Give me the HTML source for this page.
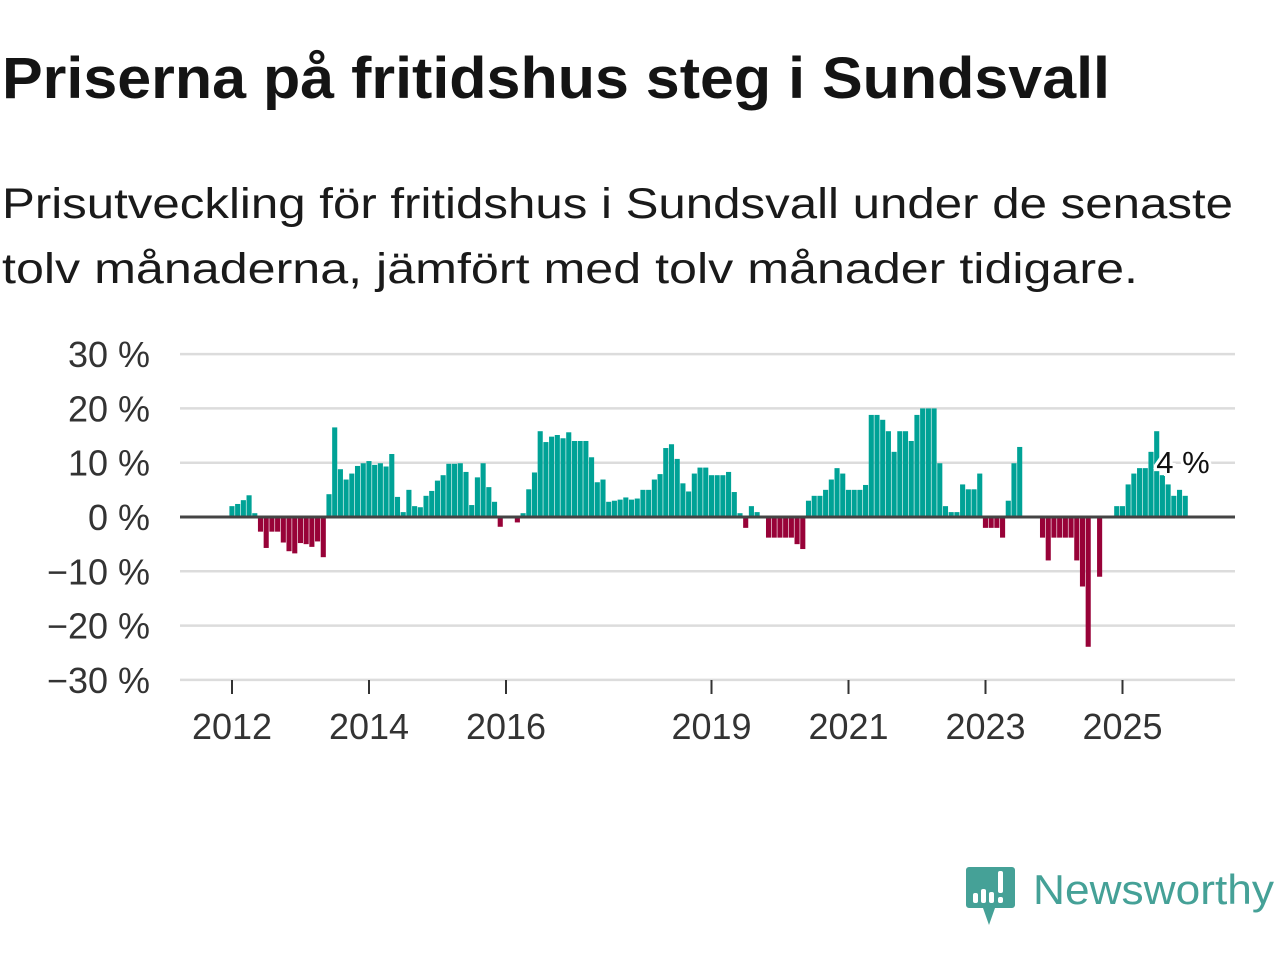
<!DOCTYPE html>
<html><head><meta charset="utf-8"><style>
body{margin:0;background:#fff;}
svg{display:block;font-family:"Liberation Sans","DejaVu Sans",sans-serif;}
</style></head><body>
<svg id="chart" width="1280" height="960" viewBox="0 0 1280 960" xmlns="http://www.w3.org/2000/svg">
<rect width="1280" height="960" fill="#fff"/>
<text x="2" y="98" font-size="58" font-weight="bold" fill="#141414" textLength="1108" lengthAdjust="spacingAndGlyphs">Priserna på fritidshus steg i Sundsvall</text>
<text x="2" y="218" font-size="43" fill="#1a1a1a" textLength="1231" lengthAdjust="spacingAndGlyphs">Prisutveckling för fritidshus i Sundsvall under de senaste</text>
<text x="2" y="283" font-size="43" fill="#1a1a1a" textLength="1136" lengthAdjust="spacingAndGlyphs">tolv månaderna, jämfört med tolv månader tidigare.</text>
<g id="grid"></g>
<g id="bars"></g>
<g id="axes"></g>
<g>
<path d="M969 867 H1012 a3 3 0 0 1 3 3 V905 a3 3 0 0 1 -3 3 H995 L989 925 L983 908 H969 a3 3 0 0 1 -3 -3 V870 a3 3 0 0 1 3 -3 Z" fill="#45a197"/>
<rect x="973" y="893" width="5" height="10" rx="2" fill="#fff"/>
<rect x="981" y="889" width="5" height="14" rx="2" fill="#fff"/>
<rect x="989" y="892" width="5" height="11" rx="2" fill="#fff"/>
<rect x="998" y="871" width="5" height="22" rx="2" fill="#fff"/>
<rect x="998" y="897" width="5" height="6" rx="2" fill="#fff"/>
<text x="1033" y="904" font-size="42" fill="#45a197" textLength="241" lengthAdjust="spacingAndGlyphs">Newsworthy</text>
</g>
</svg>
<script>
const startYear = 2012;
const values = [
2.0,2.4,3.1,4.0,0.7,-2.7,-5.7,-2.7,-2.7,-4.7,-6.3,-6.7,
-4.8,-5.0,-5.5,-4.5,-7.4,4.2,16.5,8.8,6.9,8.0,9.4,9.9,
10.3,9.6,9.9,9.3,11.6,3.7,0.9,5.0,2.0,1.8,3.9,4.8,
6.7,7.7,9.8,9.8,9.9,8.3,2.2,7.3,9.9,5.5,2.8,-1.8,
0,0,-1.0,0.7,5.1,8.2,15.8,13.8,14.8,15.1,14.5,15.6,
14.0,14.0,14.0,11.0,6.4,6.9,2.8,3.0,3.2,3.6,3.2,3.4,
5.0,5.0,6.9,7.9,12.7,13.4,10.7,6.2,4.7,8.0,9.1,9.1,
7.7,7.7,7.7,8.3,4.6,0.7,-2.0,2.0,0.9,0,-3.8,-3.8,
-3.8,-3.8,-3.8,-5.0,-5.9,3.0,3.9,3.9,5.0,6.9,9.0,8.0,
5.0,5.0,5.0,5.9,18.8,18.8,17.9,15.8,12.0,15.8,15.8,14.0,
18.8,20.0,20.0,20.0,9.9,2.0,0.9,0.9,6.0,5.1,5.1,8.0,
-2.0,-2.0,-2.0,-3.8,3.0,9.9,12.9,0,0,0,-3.8,-8.0,
-3.8,-3.8,-3.8,-3.8,-8.0,-12.8,-23.9,0,-11.0,0,0,2.0,
2.0,6.0,8.0,9.0,9.0,12.0,15.8,7.7,6.0,3.9,5.0,3.9
];
const yTicks = [30,20,10,0,-10,-20,-30];
const yTickLabels = ["30 %","20 %","10 %","0 %","\u221210 %","\u221220 %","\u221230 %"];
const xTickYears = [2012,2014,2016,2019,2021,2023,2025];
const lastLabel = "4 %";

const NS = "http://www.w3.org/2000/svg";
const x0 = 232, monthW = 68.5/12;
const yZero = 517, pxPer = 5.43;
function xScale(i){ return x0 + i*monthW; }
function yScale(v){ return yZero - v*pxPer; }
function mk(tag, attrs, parent){ const e=document.createElementNS(NS,tag); for(const k in attrs) e.setAttribute(k,attrs[k]); parent.appendChild(e); return e; }

const grid=document.getElementById('grid'), bars=document.getElementById('bars'), axes=document.getElementById('axes');
yTicks.forEach((t,k)=>{
  const y=yScale(t);
  if(t!==0){
    const l=mk('line',{x1:180,x2:1235,y1:y,y2:y,stroke:'#dcdcdc','stroke-width':2.5},grid);
    
    
  }
  const tx=mk('text',{x:150,y:y+13,'text-anchor':'end','font-size':36,fill:'#333'},axes);
  tx.textContent=yTickLabels[k];
  
  
});
values.forEach((v,i)=>{
  const cx=xScale(i), y=yScale(v);
  const r=mk('rect',{x:cx-2.6,width:5.1,y:Math.min(y,yZero),height:Math.abs(yZero-y),fill:v>=0?'#00a296':'#980238'},bars);
  
  
});
const zl=mk('line',{x1:180,x2:1235,y1:yZero,y2:yZero,stroke:'#444','stroke-width':3},axes);


xTickYears.forEach(yr=>{
  const x=xScale((yr-startYear)*12);
  const t=mk('line',{x1:x,x2:x,y1:680,y2:694,stroke:'#333','stroke-width':2},axes);
  
  
  const tx=mk('text',{x:x,y:739,'text-anchor':'middle','font-size':36,fill:'#333'},axes);
  tx.textContent=yr;
  
  
});
const li=values.length-1;
const lb=mk('text',{x:xScale(li)-29,y:yScale(values[li])-23,'font-size':31,fill:'#111',stroke:'#fff','stroke-width':6,'paint-order':'stroke'},axes);
lb.textContent=lastLabel;


</script>
</body></html>
